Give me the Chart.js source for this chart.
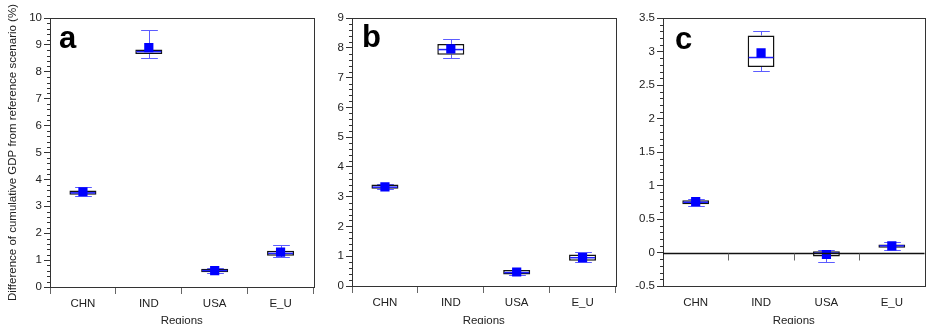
<!DOCTYPE html>
<html>
<head>
<meta charset="utf-8">
<script src="https://cdn.jsdelivr.net/npm/chart.js@4.4.1/dist/chart.umd.min.js"></script>
<style>
  body { margin: 0; background: #fff; width: 931px; height: 324px; overflow: hidden; position: relative; }
  canvas { position: absolute; top: 0; }
</style>
</head>
<body>
<canvas id="chartA" width="320" height="328" style="left:0"></canvas>
<canvas id="chartB" width="302" height="328" style="left:320px"></canvas>
<canvas id="chartC" width="309" height="328" style="left:622px"></canvas>
<script>
// ---------------- DATA ----------------
const regions = ["CHN", "IND", "USA", "E_U"];

// panel a
const aMin = [3.40, 8.52, 0.52, 1.12];
const aQ1 = [3.43, 8.66, 0.55, 1.16];
const aMed = [3.50, 8.75, 0.61, 1.25];
const aQ3 = [3.59, 8.83, 0.68, 1.35];
const aMax = [3.71, 9.57, 0.72, 1.57];
const aMean = [3.54, 8.90, 0.61, 1.30];

// panel b
const bMin = [3.25, 7.64, 0.36, 0.80];
const bQ1 = [3.27, 7.77, 0.39, 0.85];
const bMed = [3.32, 7.94, 0.45, 0.95];
const bQ3 = [3.41, 8.13, 0.54, 1.06];
const bMax = [3.42, 8.30, 0.55, 1.15];
const bMean = [3.33, 7.96, 0.47, 0.95];

// panel c
const cMin = [0.70, 2.71, -0.14, 0.04];
const cQ1 = [0.72, 2.77, -0.06, 0.07];
const cMed = [0.75, 2.91, -0.01, 0.10];
const cQ3 = [0.78, 3.24, 0.02, 0.12];
const cMax = [0.80, 3.31, 0.03, 0.16];
const cMean = [0.76, 2.98, -0.03, 0.10];

// ---------------- STYLE ----------------
const FONT = "'Liberation Sans', Arial, sans-serif";
const AXIS = "#333";
const WHISKER = "#5c5cff";
const MEDIAN = "#1f1fff";
const MEAN = "#0000ff";
const CANVAS_H = 328;

// ======================================================
// BOX PLOT PLUGIN (whiskers, medians, frame, minor ticks)
// ======================================================
const boxPlot = {
  id: "boxPlot",
  beforeDatasetsDraw(chart) {
    const o = chart.options.plugins.boxPlot;
    const y = chart.scales.y;
    const ctx = chart.ctx;
    const meta = chart.getDatasetMeta(0);
    ctx.save();
    ctx.strokeStyle = WHISKER;
    ctx.lineWidth = 1;
    meta.data.forEach((bar, i) => {
      const cx = Math.round(bar.x) + 0.5;
      const cap = bar.width * 0.31;
      const yMax = Math.round(y.getPixelForValue(o.maxs[i])) + 0.5;
      const yMin = Math.round(y.getPixelForValue(o.mins[i])) + 0.5;
      const yQ3 = y.getPixelForValue(o.q3s[i]);
      const yQ1 = y.getPixelForValue(o.q1s[i]);
      ctx.beginPath();
      ctx.moveTo(cx, yQ3); ctx.lineTo(cx, yMax);
      ctx.moveTo(cx - cap, yMax); ctx.lineTo(cx + cap, yMax);
      ctx.moveTo(cx, yQ1); ctx.lineTo(cx, yMin);
      ctx.moveTo(cx - cap, yMin); ctx.lineTo(cx + cap, yMin);
      ctx.stroke();
    });
    ctx.restore();
  },
  afterDatasetDraw(chart, args) {
    if (args.index !== 0) return;
    const o = chart.options.plugins.boxPlot;
    const y = chart.scales.y;
    const ctx = chart.ctx;
    ctx.save();
    ctx.strokeStyle = MEDIAN;
    ctx.lineWidth = 1.5;
    args.meta.data.forEach((bar, i) => {
      const half = bar.width / 2 - 1;
      const py = y.getPixelForValue(o.medians[i]);
      ctx.beginPath();
      ctx.moveTo(bar.x - half, py);
      ctx.lineTo(bar.x + half, py);
      ctx.stroke();
    });
    ctx.restore();
  },
  afterDraw(chart) {
    const o = chart.options.plugins.boxPlot;
    const { left, right, top, bottom } = chart.chartArea;
    const y = chart.scales.y;
    const x = chart.scales.x;
    const ctx = chart.ctx;
    ctx.save();
    ctx.strokeStyle = AXIS;
    ctx.lineWidth = 1;
    // frame
    ctx.strokeRect(Math.round(left) + 0.5, Math.round(top) + 0.5,
      Math.round(right - left), Math.round(bottom - top));
    // minor ticks
    const minor = o.major / 5;
    const n = Math.round((y.max - y.min) / minor);
    ctx.beginPath();
    for (let k = 0; k <= n; k++) {
      if (k % 5 === 0) continue;
      const py = Math.round(y.getPixelForValue(y.min + k * minor)) + 0.5;
      ctx.moveTo(left - 3, py);
      ctx.lineTo(left, py);
    }
    ctx.stroke();
    // zero line with category ticks
    if (o.zeroLine) {
      const pz = Math.round(y.getPixelForValue(0)) + 0.5;
      ctx.strokeStyle = "#111";
      ctx.lineWidth = 1.5;
      ctx.beginPath();
      ctx.moveTo(left, pz); ctx.lineTo(right, pz);
      ctx.stroke();
      ctx.strokeStyle = "#666";
      ctx.lineWidth = 1;
      ctx.beginPath();
      for (let i = 1; i < regions.length; i++) {
        const px = Math.round((x.getPixelForValue(i - 1) + x.getPixelForValue(i)) / 2) + 0.5;
        ctx.moveTo(px, pz); ctx.lineTo(px, pz + 7);
      }
      ctx.stroke();
    }
    // panel letter
    ctx.fillStyle = "#000";
    ctx.font = "bold 31px " + FONT;
    ctx.textBaseline = "alphabetic";
    ctx.fillText(o.letter, left + o.letterDx, top + o.letterDy);
    ctx.restore();
  },
};

// ======================================================
// PANEL BUILDER
// ======================================================
function makePanel(id, p) {
  const ctx = document.getElementById(id);
  return new Chart(ctx, {
    type: "bar",
    data: {
      labels: regions,
      datasets: [
        {
          type: "bar",
          data: p.q1s.map((q, i) => [q, p.q3s[i]]),
          backgroundColor: "#ffffff",
          borderColor: "#111",
          borderWidth: 1.5,
          borderSkipped: false,
          barPercentage: 0.41,
          categoryPercentage: 1,
          order: 2,
        },
        {
          type: "line",
          data: p.means,
          showLine: false,
          pointStyle: "rect",
          pointRadius: 6.5,
          pointBackgroundColor: MEAN,
          pointBorderWidth: 0,
          order: 1,
        },
      ],
    },
    options: {
      responsive: false,
      animation: false,
      devicePixelRatio: 1,
      layout: { padding: { left: p.padLeft, right: p.padRight, top: 18, bottom: 0 } },
      plugins: {
        legend: { display: false },
        tooltip: { enabled: false },
        boxPlot: {
          mins: p.mins, q1s: p.q1s, medians: p.medians, q3s: p.q3s, maxs: p.maxs,
          major: p.step, zeroLine: p.zeroLine, letter: p.letter,
          letterDx: p.letterDx, letterDy: p.letterDy,
        },
      },
      scales: {
        x: {
          type: "category",
          offset: true,
          grid: {
            offset: true,
            drawOnChartArea: false,
            drawTicks: !p.zeroLine,
            tickLength: 7,
            color: "#666",
          },
          border: { display: true, color: AXIS, width: 1 },
          ticks: {
            color: "#222",
            font: { family: FONT, size: 11.5 },
            padding: p.zeroLine ? 10 : 3,
            maxRotation: 0,
          },
          title: {
            display: true,
            text: "Regions",
            color: "#222",
            font: { family: FONT, size: 11.5 },
            padding: { top: 0, bottom: 0 },
          },
          afterFit(scale) { scale.height = CANVAS_H - p.bottom; },
        },
        y: {
          min: p.min,
          max: p.max,
          grid: { drawOnChartArea: false, tickLength: 6, color: AXIS },
          border: { display: true, color: AXIS, width: 1 },
          ticks: {
            stepSize: p.step,
            color: "#222",
            font: { family: FONT, size: 11.5 },
            padding: 2,
            callback: (v) => String(+Number(v).toFixed(2)),
          },
          title: {
            display: !!p.yTitle,
            text: p.yTitle || "",
            color: "#222",
            font: { family: FONT, size: 11.5 },
            padding: 0,
          },
          afterFit(scale) { scale.width = p.axisWidth; },
        },
      },
    },
    plugins: [boxPlot],
  });
}

// ======================================================
// INIT
// ======================================================
makePanel("chartA", {
  mins: aMin, q1s: aQ1, medians: aMed, q3s: aQ3, maxs: aMax, means: aMean,
  min: 0, max: 10, step: 1, bottom: 287,
  padLeft: 6, axisWidth: 44, padRight: 4,
  yTitle: "Difference of cumulative GDP from reference scenario (%)",
  letter: "a", letterDx: 9, letterDy: 30, zeroLine: false,
});

makePanel("chartB", {
  mins: bMin, q1s: bQ1, medians: bMed, q3s: bQ3, maxs: bMax, means: bMean,
  min: 0, max: 9, step: 1, bottom: 286,
  padLeft: 0, axisWidth: 32, padRight: 3,
  letter: "b", letterDx: 10, letterDy: 29, zeroLine: false,
});

makePanel("chartC", {
  mins: cMin, q1s: cQ1, medians: cMed, q3s: cQ3, maxs: cMax, means: cMean,
  min: -0.5, max: 3.5, step: 0.5, bottom: 286,
  padLeft: 0, axisWidth: 41, padRight: 1,
  letter: "c", letterDx: 12, letterDy: 31, zeroLine: true,
});
</script>
</body>
</html>
